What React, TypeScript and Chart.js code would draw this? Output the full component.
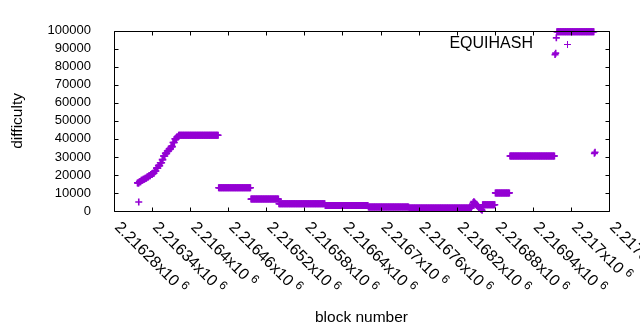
import React, { useEffect, useRef } from 'react';
import { Chart, registerables } from 'chart.js';

Chart.register(...registerables);

// Difficulty read as runs of consecutive blocks: [runStart .. runEnd] -> runValue
const runStart = [
  2216317, 2216320, 2216323, 2216326, 2216329, 2216332, 2216335, 2216338, 2216341, 2216344,
  2216347, 2216350, 2216353, 2216356, 2216358, 2216361, 2216364, 2216367, 2216370, 2216373,
  2216376, 2216379, 2216382, 2216445, 2216496, 2216540, 2216613, 2216681, 2216745, 2216844,
  2216845, 2216846, 2216847, 2216848, 2216849, 2216850, 2216851, 2216852, 2216853, 2216854,
  2216855, 2216856, 2216857, 2216858, 2216859, 2216860, 2216861, 2216881, 2216904, 2216975,
  2216976, 2216977, 2216978, 2217037, 2217038, 2216319,
];
const runEnd = [
  2216319, 2216322, 2216325, 2216328, 2216331, 2216334, 2216337, 2216340, 2216343, 2216346,
  2216349, 2216352, 2216355, 2216357, 2216360, 2216363, 2216366, 2216369, 2216372, 2216375,
  2216378, 2216381, 2216444, 2216495, 2216539, 2216612, 2216680, 2216744, 2216843, 2216844,
  2216845, 2216846, 2216847, 2216848, 2216849, 2216850, 2216851, 2216852, 2216853, 2216854,
  2216855, 2216856, 2216857, 2216858, 2216859, 2216860, 2216880, 2216903, 2216974, 2216975,
  2216976, 2216977, 2217036, 2217037, 2217038, 2216319,
];
const runValue = [
  15600, 16300, 17000, 17600, 18200, 18900, 19600, 20300, 21000, 22200,
  23800, 25200, 26800, 28500, 30500, 32000, 33300, 34500, 35700, 38000,
  40000, 41000, 42000, 12900, 6600, 4000, 3000, 2250, 1720, 2600,
  3800, 4700, 5200, 4800, 4300, 3900, 3500, 3100, 2800, 2400,
  2000, 1700, 1400, 1100, 800, 400, 3500, 10050, 30500, 86800,
  87600, 96100, 99500, 32000, 32600, 5000,
];

const seriesLabel = 'EQUIHASH';
const xMin = 2216280;
const xMax = 2217060;
const xTickValues = [
  2216280, 2216340, 2216400, 2216460, 2216520, 2216580, 2216640,
  2216700, 2216760, 2216820, 2216880, 2216940, 2217000, 2217060,
];
const xTickMantissa = [
  '2.21628', '2.21634', '2.2164', '2.21646', '2.21652', '2.21658', '2.21664',
  '2.2167', '2.21676', '2.21682', '2.21688', '2.21694', '2.217', '2.21706',
];
const yMin = 0;
const yMax = 100000;
const yStep = 10000;
const xTitle = 'block number';
const yTitle = 'difficulty';

const COLOR = '#9400D3';
const FONT = '"Liberation Sans", Arial, sans-serif';

function buildPoints() {
  const pts: { x: number; y: number }[] = [];
  for (let i = 0; i < runStart.length; i++) {
    for (let b = runStart[i]; b <= runEnd[i]; b++) {
      pts.push({ x: b, y: runValue[i] });
    }
  }
  return pts;
}

const framePlugin = {
  id: 'gnuplotFrame',
  afterDraw(chart: any) {
    const { ctx, chartArea } = chart;
    const xs = chart.scales.x;
    const ys = chart.scales.y;
    const L = Math.round(chartArea.left) + 0.5;
    const R = Math.round(chartArea.right) + 0.5;
    const T = Math.round(chartArea.top) + 0.5;
    const B = Math.round(chartArea.bottom) + 0.5;
    const tl = 4;
    ctx.save();
    ctx.strokeStyle = '#000';
    ctx.lineWidth = 1;
    ctx.beginPath();
    ctx.rect(L, T, R - L, B - T);
    xTickValues.forEach((v) => {
      const px = Math.round(xs.getPixelForValue(v)) + 0.5;
      ctx.moveTo(px, B);
      ctx.lineTo(px, B - tl);
      ctx.moveTo(px, T);
      ctx.lineTo(px, T + tl);
    });
    for (let v = yMin; v <= yMax; v += yStep) {
      const py = Math.round(ys.getPixelForValue(v)) + 0.5;
      ctx.moveTo(L, py);
      ctx.lineTo(L + tl, py);
      ctx.moveTo(R, py);
      ctx.lineTo(R - tl, py);
    }
    ctx.stroke();

    // rotated x tick labels
    ctx.fillStyle = '#000';
    xTickValues.forEach((v, i) => {
      const px = xs.getPixelForValue(v);
      ctx.save();
      ctx.translate(px, chartArea.bottom + 17);
      ctx.rotate(Math.PI / 4);
      ctx.font = `16px ${FONT}`;
      ctx.textAlign = 'left';
      ctx.textBaseline = 'alphabetic';
      const main = xTickMantissa[i] + 'x10';
      ctx.fillText(main, 0, 0);
      const w = ctx.measureText(main).width;
      ctx.font = `12px ${FONT}`;
      ctx.fillText('6', w + 4, -6);
      ctx.restore();
    });

    // key
    const ky = chartArea.top + 13;
    ctx.font = `16px ${FONT}`;
    ctx.textAlign = 'right';
    ctx.textBaseline = 'middle';
    ctx.fillText(chart.data.datasets[0].label, chartArea.right - 76, ky);
    const sx = Math.round(chartArea.right - 42) + 0.5;
    const sy = Math.round(ky) + 0.5;
    ctx.strokeStyle = COLOR;
    ctx.beginPath();
    ctx.moveTo(sx - 3.5, sy);
    ctx.lineTo(sx + 3.5, sy);
    ctx.moveTo(sx, sy - 3.5);
    ctx.lineTo(sx, sy + 3.5);
    ctx.stroke();
    ctx.restore();
  },
};

export default function App() {
  const ref = useRef<HTMLCanvasElement | null>(null);
  useEffect(() => {
    if (!ref.current) return;
    const chart = new Chart(ref.current, {
      type: 'scatter',
      data: {
        datasets: [
          {
            label: seriesLabel,
            data: buildPoints(),
            pointStyle: 'cross',
            pointRadius: 3.5,
            pointBorderWidth: 1.6,
            borderColor: COLOR,
            backgroundColor: COLOR,
            showLine: false,
            clip: false as any,
          },
        ],
      },
      options: {
        responsive: false,
        animation: false,
        devicePixelRatio: 1,
        layout: { padding: { left: 0, top: 19, right: 31, bottom: 0 } },
        plugins: { legend: { display: false }, tooltip: { enabled: false } },
        scales: {
          x: {
            type: 'linear',
            min: xMin,
            max: xMax,
            grid: { display: false, drawTicks: false, tickLength: 0 },
            border: { display: false },
            ticks: { display: false },
            title: {
              display: true,
              text: xTitle,
              color: '#000',
              font: { family: FONT, size: 15.5 },
              padding: { top: 0, bottom: 3 },
            },
            afterFit: (s: any) => {
              s.height = 119;
            },
          },
          y: {
            type: 'linear',
            min: yMin,
            max: yMax,
            grid: { display: false, drawTicks: false, tickLength: 0 },
            border: { display: false },
            ticks: {
              stepSize: yStep,
              autoSkip: false,
              maxTicksLimit: 20,
              padding: 23,
              color: '#000',
              font: { family: FONT, size: 13 },
              callback: (v: any) => String(v),
            },
            title: {
              display: true,
              text: yTitle,
              color: '#000',
              font: { family: FONT, size: 15.5 },
              padding: { top: 8, bottom: 0 },
            },
            afterFit: (s: any) => {
              s.width = 114;
            },
          },
        },
      } as any,
      plugins: [framePlugin],
    });
    return () => chart.destroy();
  }, []);
  return (
    <div style={{ position: 'fixed', left: 0, top: 0, width: 640, height: 330, background: '#fff' }}>
      <canvas ref={ref} width={640} height={330} style={{ width: 640, height: 330, display: 'block' }} />
    </div>
  );
}
